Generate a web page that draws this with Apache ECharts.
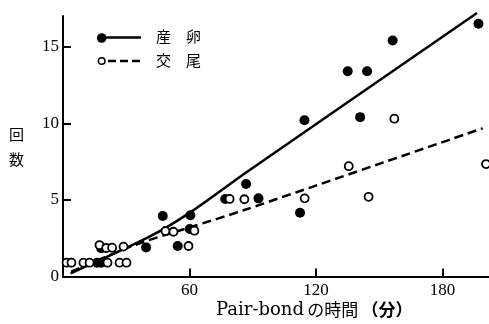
<!DOCTYPE html>
<html><head><meta charset="utf-8">
<script src="https://cdn.jsdelivr.net/npm/echarts@6/dist/echarts.min.js"></script>
<style>html,body{margin:0;padding:0;background:#fff}#c{width:489px;height:324px}</style>
</head><body><div id="c"></div>
<script>
// 産卵 (filled dots)
const spawnX = [16.2,18.1,18.1,39.4,47.3,54.4,60.1,60.4,76.9,86.8,92.7,112.4,114.5,135.0,140.9,144.2,156.3,197.0];
const spawnY = [0.9,0.9,1.84,1.9,3.95,1.99,3.1,4.0,5.06,6.04,5.1,4.16,10.2,13.4,10.4,13.4,15.4,16.5];
// 交尾 (open circles)
const copX = [1.7,4.0,9.7,12.6,21.1,26.8,30.1,17.3,20.5,23.3,28.7,48.6,52.4,62.3,59.5,79.0,86.0,114.6,135.5,144.9,157.1,200.6];
const copY = [0.9,0.9,0.9,0.9,0.9,0.9,0.9,2.05,1.86,1.88,1.95,2.97,2.92,2.99,1.99,5.06,5.04,5.1,7.2,5.2,10.3,7.34];
// fitted curves
const spawnFitX = [3.6,41,60,87,196.3];
const spawnFitY = [0.21,2.6,4.15,6.8,17.2];
const copFitX = [3.9,33,60,86,199];
const copFitY = [0.31,2.0,3.2,4.34,9.67];
// ticks
const xTicks = [60,120,180];
const yTicks = [0,5,10,15];
const legendNames = ['産　卵','交　尾'];

const zip = (a,b) => a.map((v,i)=>[v,b[i]]);
const serif = '"Liberation Serif","Noto Sans CJK JP",serif';
const chart = echarts.init(document.getElementById('c'), null, {renderer:'canvas'});
chart.setOption({
  animation:false,
  backgroundColor:'#fff',
  grid:{left:63,right:0,top:16,bottom:47.5,containLabel:false},
  xAxis:{type:'value',min:0,max:202,
    axisLine:{show:true,onZero:false,lineStyle:{color:'#000',width:2}},
    axisTick:{show:true,inside:true,length:8,customValues:xTicks,lineStyle:{color:'#000',width:2}},
    axisLabel:{customValues:xTicks,color:'#000',fontFamily:serif,fontSize:17,margin:6},
    splitLine:{show:false}},
  yAxis:{type:'value',min:0,max:17,
    axisLine:{show:true,onZero:false,lineStyle:{color:'#000',width:2}},
    axisTick:{show:true,inside:true,length:8,customValues:yTicks,lineStyle:{color:'#000',width:2}},
    axisLabel:{customValues:yTicks,color:'#000',fontFamily:serif,fontSize:17,margin:4},
    splitLine:{show:false}},
  series:[
    {type:'line',data:zip(spawnFitX,spawnFitY),smooth:0.3,symbol:'none',clip:false,
      lineStyle:{color:'#000',width:2.5},z:2},
    {type:'line',data:zip(copFitX,copFitY),smooth:0.3,symbol:'none',clip:false,
      lineStyle:{color:'#000',width:2.5,type:[9,5]},z:2},
    {type:'scatter',name:legendNames[0],data:zip(spawnX,spawnY),symbol:'circle',symbolSize:10,clip:false,
      itemStyle:{color:'#000',opacity:1},z:3},
    {type:'scatter',name:legendNames[1],data:zip(copX,copY),symbol:'circle',symbolSize:8,clip:false,
      itemStyle:{color:'#fff',borderColor:'#000',borderWidth:1.8,opacity:1},z:4}
  ],
  graphic:[
    {type:'circle',shape:{cx:101.7,cy:38,r:4.8},style:{fill:'#000'}},
    {type:'line',shape:{x1:106,y1:37.5,x2:141,y2:37.5},style:{stroke:'#000',lineWidth:2.5}},
    {type:'text',left:156,top:29,style:{text:legendNames[0],font:'15px "Noto Sans CJK JP"',fill:'#000'}},
    {type:'circle',shape:{cx:101.7,cy:61,r:3.3},style:{fill:'#fff',stroke:'#000',lineWidth:1.6}},
    {type:'line',shape:{x1:108,y1:61,x2:141,y2:61},style:{stroke:'#000',lineWidth:2.5,lineDash:[8,4]}},
    {type:'text',left:156,top:53,style:{text:legendNames[1],font:'15px "Noto Sans CJK JP"',fill:'#000'}},
    {type:'text',left:9,top:122,style:{text:'回\n数',font:'15px "Noto Sans CJK JP"',lineHeight:25,fill:'#000'}},
    {type:'text',left:216,top:301,style:{
      text:'{a|Pair-bond} {b|の時間} {c|（分）}',
      rich:{a:{font:'18px "DejaVu Serif"',fill:'#000'},
            b:{font:'17px "Noto Sans CJK JP"',fill:'#000'},
            c:{font:'bold 17px "Noto Sans CJK JP"',fill:'#000'}}}}
  ]
});
</script></body></html>
